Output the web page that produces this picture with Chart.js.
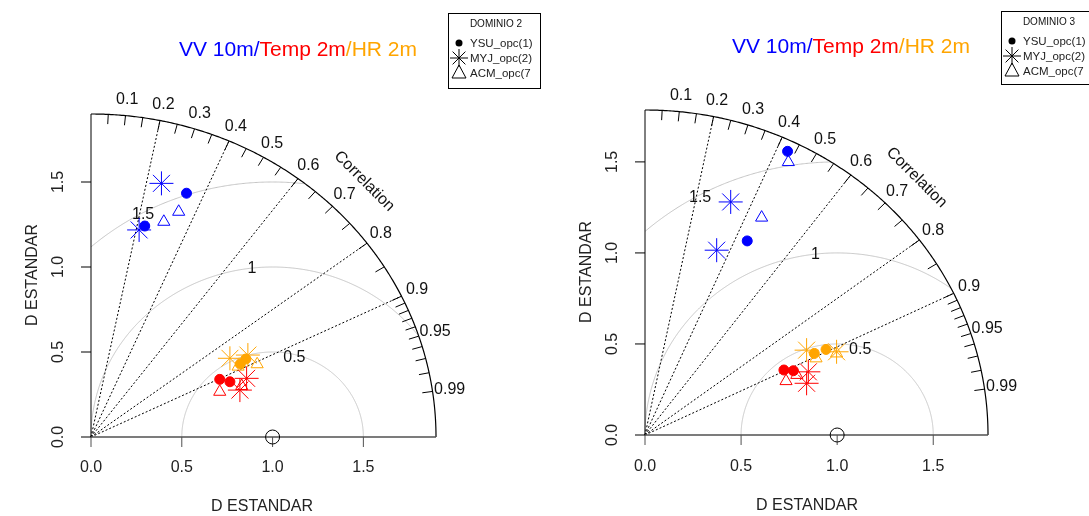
<!DOCTYPE html>
<html>
<head>
<meta charset="utf-8">
<script src="https://cdn.jsdelivr.net/npm/chart.js@4.4.1/dist/chart.umd.min.js"></script>
<style>
  html, body { margin: 0; padding: 0; background: #fff; width: 1089px; height: 516px; overflow: hidden; }
  .panel { position: absolute; top: 0; height: 516px; }
</style>
</head>
<body>
<div class="panel" style="left:0;width:545px"><canvas id="d2" width="545" height="516"></canvas></div>
<div class="panel" style="left:545px;width:544px"><canvas id="d3" width="544" height="516"></canvas></div>
<script>
// axis / grid values of the taylor diagram
const CORR_LABELS = [0.1, 0.2, 0.3, 0.4, 0.5, 0.6, 0.7, 0.8, 0.9, 0.95, 0.99];
const CORR_LINES = [0.2, 0.4, 0.6, 0.8, 0.9];
const RMS_RADII = [0.5, 1, 1.5];
const RMS_LABELS = ["0.5", "1", "1.5"];
const RMS_LABEL_AT = [[1.12, 0.47], [0.887, 0.99], [0.287, 1.306]];
const SD_TICKS = [0, 0.5, 1, 1.5];
const SD_TICK_LABELS = ["0.0", "0.5", "1.0", "1.5"];
const MODELS = ["YSU_opc(1)", "MYJ_opc(2)", "ACM_opc(7"];

// DOMINIO 2  [sd*cos, sd*sin]
const d2VvYsu = [[0.526, 1.434], [0.296, 1.241]];
const d2VvMyj = [[0.388, 1.492], [0.265, 1.218]];
const d2VvAcm = [[0.483, 1.325], [0.401, 1.266]];
const d2TempYsu = [[0.709, 0.339], [0.765, 0.325]];
const d2TempMyj = [[0.820, 0.276], [0.857, 0.345]];
const d2TempAcm = [[0.709, 0.266], [0.830, 0.300]];
const d2HrYsu = [[0.822, 0.429], [0.853, 0.459]];
const d2HrMyj = [[0.765, 0.463], [0.864, 0.482]];
const d2HrAcm = [[0.915, 0.428], [0.810, 0.414]];

// DOMINIO 3
const d3VvYsu = [[0.742, 1.558], [0.532, 1.066]];
const d3VvMyj = [[0.446, 1.280], [0.373, 1.015]];
const d3VvAcm = [[0.746, 1.499], [0.607, 1.194]];
const d3TempYsu = [[0.723, 0.357], [0.772, 0.353]];
const d3TempMyj = [[0.850, 0.347], [0.841, 0.284]];
const d3TempAcm = [[0.734, 0.296], [0.790, 0.330]];
const d3HrYsu = [[0.881, 0.448], [0.942, 0.470]];
const d3HrMyj = [[0.841, 0.466], [0.997, 0.457]];
const d3HrAcm = [[0.890, 0.421], [0.997, 0.448]];

const BLUE = "#0000FF", RED = "#FF0000", ORANGE = "#FFA500";
const FONT = '"Liberation Sans", Arial, sans-serif';

function ds(points, style, color) {
  return {
    data: points.map(([x, y]) => ({ x, y })),
    pointStyle: style,
    pointRadius: style === "circle" ? 5 : style === "star" ? 12 : 7,
    backgroundColor: style === "circle" ? color : "rgba(0,0,0,0)",
    borderColor: color,
    borderWidth: 1,
    showLine: false,
    clip: false,
  };
}

const taylorPlugin = {
  id: "taylor",
  beforeDatasetsDraw(chart) {
    const o = chart.options.plugins.taylor;
    const max = o.maxsd;
    const sx = chart.scales.x, sy = chart.scales.y;
    const P = (x, y) => [sx.getPixelForValue(x), sy.getPixelForValue(y)];
    const ctx = chart.ctx;
    ctx.save();

    // rms arcs around the reference point
    ctx.strokeStyle = "#c4c4c4";
    ctx.lineWidth = 1;
    RMS_RADII.forEach((r) => {
      ctx.beginPath();
      let pen = false;
      for (let i = 0; i <= 720; i++) {
        const t = (Math.PI * i) / 720;
        const x = 1 + r * Math.cos(t), y = r * Math.sin(t);
        if (x >= 0 && x * x + y * y <= max * max * 1.0001) {
          const [a, b] = P(x, y);
          if (pen) ctx.lineTo(a, b); else ctx.moveTo(a, b);
          pen = true;
        } else pen = false;
      }
      ctx.stroke();
    });
    ctx.fillStyle = "#111";
    ctx.font = "16px " + FONT;
    ctx.textAlign = "center";
    ctx.textBaseline = "middle";
    RMS_LABELS.forEach((l, i) => {
      const [a, b] = P(RMS_LABEL_AT[i][0], RMS_LABEL_AT[i][1]);
      ctx.fillText(l, a, b);
    });

    // correlation rays
    ctx.strokeStyle = "#000";
    ctx.setLineDash([2, 2]);
    CORR_LINES.forEach((c) => {
      const s = Math.sqrt(1 - c * c);
      const [a0, b0] = P(0, 0), [a1, b1] = P(c * max, s * max);
      ctx.beginPath(); ctx.moveTo(a0, b0); ctx.lineTo(a1, b1); ctx.stroke();
    });
    ctx.setLineDash([]);

    // outer arc
    ctx.lineWidth = 1.2;
    ctx.beginPath();
    for (let i = 0; i <= 300; i++) {
      const t = (Math.PI / 2) * i / 300;
      const [a, b] = P(max * Math.cos(t), max * Math.sin(t));
      if (i) ctx.lineTo(a, b); else ctx.moveTo(a, b);
    }
    ctx.stroke();

    // correlation ticks
    ctx.lineWidth = 1;
    const ticks = [];
    for (let k = 1; k <= 18; k++) ticks.push(k * 0.05);
    for (let k = 91; k <= 99; k++) ticks.push(k / 100);
    ticks.forEach((c) => {
      const s = Math.sqrt(1 - c * c);
      const [a0, b0] = P(c * max * 0.97, s * max * 0.97), [a1, b1] = P(c * max, s * max);
      ctx.beginPath(); ctx.moveTo(a0, b0); ctx.lineTo(a1, b1); ctx.stroke();
    });
    ctx.fillStyle = "#111";
    CORR_LABELS.forEach((c) => {
      const s = Math.sqrt(1 - c * c);
      const [a, b] = P(c * max * 1.05, s * max * 1.05);
      ctx.fillText(String(c), a, b);
    });
    const [ca, cb] = P(Math.SQRT1_2 * 1.12 * max, Math.SQRT1_2 * 1.12 * max);
    ctx.save();
    ctx.translate(ca, cb);
    ctx.rotate(Math.PI / 4);
    ctx.fillText("Correlation", 0, 0);
    ctx.restore();

    // axes
    const [x0, y0] = P(0, 0), [xm, ym] = P(max, max);
    ctx.strokeStyle = "#000";
    ctx.beginPath(); ctx.moveTo(x0, y0); ctx.lineTo(x0, ym); ctx.stroke();
    ctx.strokeStyle = "#505050";
    ctx.lineWidth = 1.4;
    ctx.beginPath(); ctx.moveTo(x0, y0); ctx.lineTo(xm, y0); ctx.stroke();
    ctx.lineWidth = 1;
    ctx.fillStyle = "#222";
    SD_TICKS.forEach((v, i) => {
      const [a] = P(v, 0);
      ctx.strokeStyle = "#505050";
      ctx.beginPath(); ctx.moveTo(a, y0); ctx.lineTo(a, y0 + 10); ctx.stroke();
      ctx.fillText(SD_TICK_LABELS[i], a, o.xLabY);
      const [, b] = P(0, v);
      ctx.strokeStyle = "#000";
      ctx.beginPath(); ctx.moveTo(x0, b); ctx.lineTo(x0 - 10, b); ctx.stroke();
      ctx.save();
      ctx.translate(o.yLabX, b);
      ctx.rotate(-Math.PI / 2);
      ctx.fillText(SD_TICK_LABELS[i], 0, 0);
      ctx.restore();
    });
    ctx.fillText("D ESTANDAR", o.xTitle[0], o.xTitle[1]);
    ctx.save();
    ctx.translate(o.yTitle[0], o.yTitle[1]);
    ctx.rotate(-Math.PI / 2);
    ctx.fillText("D ESTANDAR", 0, 0);
    ctx.restore();

    // reference point
    const [ra, rb] = P(1, 0);
    ctx.strokeStyle = "#000";
    ctx.beginPath(); ctx.arc(ra, rb, 7, 0, Math.PI * 2); ctx.stroke();

    // title
    ctx.font = "21px " + FONT;
    ctx.textAlign = "left";
    const parts = [["VV 10m/", BLUE], ["Temp 2m", RED], ["/HR 2m", ORANGE]];
    const w = parts.reduce((s, p) => s + ctx.measureText(p[0]).width, 0);
    let tx = o.title[0] - w / 2;
    parts.forEach(([t, col]) => {
      ctx.fillStyle = col;
      ctx.fillText(t, tx, o.title[1]);
      tx += ctx.measureText(t).width;
    });

    // legend box
    const [lx, ly, lw, lh] = o.legend;
    ctx.strokeStyle = "#000";
    ctx.lineWidth = 1;
    ctx.strokeRect(lx + 0.5, ly + 0.5, lw, lh);
    ctx.fillStyle = "#111";
    ctx.font = "10px " + FONT;
    ctx.textAlign = "center";
    ctx.fillText(o.domain, lx + 48, ly + 11);
    ctx.save();
    ctx.beginPath(); ctx.rect(lx, ly, lw, lh); ctx.clip();
    ctx.font = "11.5px " + FONT;
    ctx.textAlign = "left";
    const sym = lx + 11;
    MODELS.forEach((m, i) => {
      ctx.fillStyle = "#222";
      ctx.fillText(m, lx + 22, ly + 31 + i * 15);
    });
    ctx.fillStyle = "#000";
    ctx.beginPath(); ctx.arc(sym, ly + 30, 3.5, 0, Math.PI * 2); ctx.fill();
    const cy = ly + 45;
    ctx.beginPath();
    ctx.moveTo(sym - 9, cy); ctx.lineTo(sym + 9, cy);
    ctx.moveTo(sym, cy - 9); ctx.lineTo(sym, cy + 9);
    ctx.moveTo(sym - 6.4, cy - 6.4); ctx.lineTo(sym + 6.4, cy + 6.4);
    ctx.moveTo(sym - 6.4, cy + 6.4); ctx.lineTo(sym + 6.4, cy - 6.4);
    ctx.stroke();
    const ty = ly + 60;
    ctx.beginPath();
    ctx.moveTo(sym, ty - 8); ctx.lineTo(sym + 7, ty + 5); ctx.lineTo(sym - 7, ty + 5); ctx.closePath();
    ctx.stroke();
    ctx.restore();

    ctx.restore();
  },
};

function makeChart(id, cfg, sets) {
  new Chart(document.getElementById(id), {
    type: "scatter",
    data: { datasets: sets },
    options: {
      responsive: false,
      animation: false,
      events: [],
      layout: { padding: cfg.pad },
      scales: {
        x: { type: "linear", min: 0, max: cfg.maxsd, display: false },
        y: { type: "linear", min: 0, max: cfg.maxsd, display: false },
      },
      plugins: { legend: { display: false }, tooltip: { enabled: false }, taylor: cfg },
    },
    plugins: [taylorPlugin],
  });
}

makeChart("d2", {
  domain: "DOMINIO 2", maxsd: 1.9,
  pad: { left: 91, right: 109, top: 114, bottom: 79 },
  xLabY: 468, yLabX: 59, xTitle: [262, 507], yTitle: [33, 275],
  title: [298, 50], legend: [448, 13, 92, 75],
}, [
  ds(d2TempYsu, "circle", RED), ds(d2TempMyj, "star", RED), ds(d2TempAcm, "triangle", RED),
  ds(d2HrYsu, "circle", ORANGE), ds(d2HrMyj, "star", ORANGE), ds(d2HrAcm, "triangle", ORANGE),
  ds(d2VvYsu, "circle", BLUE), ds(d2VvMyj, "star", BLUE), ds(d2VvAcm, "triangle", BLUE),
]);

makeChart("d3", {
  domain: "DOMINIO 3", maxsd: 1.785,
  pad: { left: 100, right: 101, top: 110, bottom: 81 },
  xLabY: 467, yLabX: 68, xTitle: [262, 506], yTitle: [42, 272],
  title: [306, 47], legend: [456, 11, 100, 73],
}, [
  ds(d3TempYsu, "circle", RED), ds(d3TempMyj, "star", RED), ds(d3TempAcm, "triangle", RED),
  ds(d3HrYsu, "circle", ORANGE), ds(d3HrMyj, "star", ORANGE), ds(d3HrAcm, "triangle", ORANGE),
  ds(d3VvYsu, "circle", BLUE), ds(d3VvMyj, "star", BLUE), ds(d3VvAcm, "triangle", BLUE),
]);
</script>
</body>
</html>
